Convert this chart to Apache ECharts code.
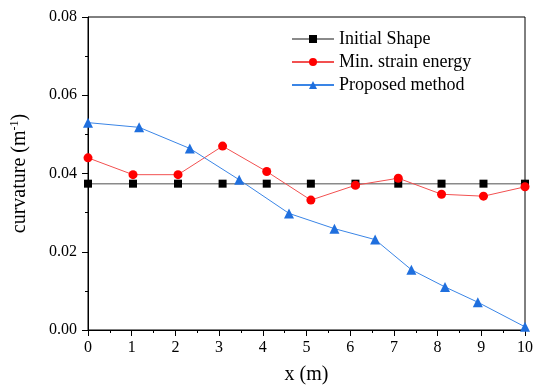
<!DOCTYPE html>
<html>
<head>
<meta charset="utf-8">
<script src="https://cdn.jsdelivr.net/npm/echarts@6/dist/echarts.min.js"></script>
<style>html,body{margin:0;padding:0;background:#fff}#c{width:533px;height:385px}</style>
</head>
<body>
<div id="c"></div>
<script>
var initialX = [0, 1.03, 2.06, 3.08, 4.09, 5.1, 6.12, 7.1, 8.09, 9.05, 10];
var initialY = [0.0374, 0.0374, 0.0374, 0.0374, 0.0374, 0.0374, 0.0374, 0.0374, 0.0374, 0.0374, 0.0374];
var minStrainX = [0, 1.03, 2.06, 3.08, 4.09, 5.1, 6.12, 7.1, 8.09, 9.05, 10];
var minStrainY = [0.0440, 0.0397, 0.0397, 0.0470, 0.0405, 0.0332, 0.0370, 0.0388, 0.0347, 0.0342, 0.0366];
var proposedX = [0, 1.17, 2.33, 3.46, 4.6, 5.64, 6.57, 7.4, 8.17, 8.92, 10];
var proposedY = [0.0530, 0.0518, 0.0464, 0.0384, 0.0298, 0.0259, 0.0231, 0.0154, 0.0110, 0.0071, 0.0008];
var seriesNames = ['Initial Shape', 'Min. strain energy', 'Proposed method'];

function pairs(xs, ys) { return xs.map(function (x, i) { return [x, ys[i]]; }); }

var font = "Liberation Serif";
var richLbl = { t: { fontFamily: font, fontSize: 16, color: '#000' } };
var chart = echarts.init(document.getElementById('c'));
chart.setOption({
  animation: false,
  textStyle: { fontFamily: font },
  grid: { left: 88, right: 8, top: 17, bottom: 55, show: true, borderColor: '#000', borderWidth: 1,
    backgroundColor: 'transparent', outerBoundsMode: 'none', containLabel: false },
  legend: {
    orient: 'vertical', left: 286, top: 25, itemWidth: 42, itemHeight: 10, itemGap: 5,
    textStyle: { fontFamily: font, fontSize: 18, color: '#000' },
    data: seriesNames
  },
  xAxis: {
    type: 'value', min: 0, max: 10, interval: 1,
    name: 'x (m)', nameLocation: 'middle', nameGap: 35,
    nameTextStyle: { fontFamily: font, fontSize: 20, color: '#000' },
    axisLine: { onZero: false, lineStyle: { color: '#000', width: 1 } },
    axisTick: { inside: false, length: 6, lineStyle: { color: '#000' } },
    minorTick: { show: true, splitNumber: 2, length: 3, lineStyle: { color: '#000' } },
    axisLabel: { fontFamily: font, fontSize: 16, color: '#000', margin: 10, rich: richLbl,
      formatter: function (v) { return '{t|' + v + '}'; } },
    splitLine: { show: false }
  },
  yAxis: {
    type: 'value', min: 0, max: 0.08, interval: 0.02,
    name: '{a|curvature (m}{b|-1}{a|)}', nameLocation: 'middle', nameGap: 57,
    nameTextStyle: { fontFamily: font, fontSize: 20, color: '#000',
      rich: { a: { fontFamily: font, fontSize: 20, color: '#000' }, b: { fontFamily: font, fontSize: 12, color: '#000', verticalAlign: 'top', padding: [0, 0, 10, 0] } } },
    axisLine: { onZero: false, lineStyle: { color: '#000', width: 1 } },
    axisTick: { inside: false, length: 6, lineStyle: { color: '#000' } },
    minorTick: { show: true, splitNumber: 2, length: 3, lineStyle: { color: '#000' } },
    axisLabel: { fontFamily: font, fontSize: 16, color: '#000', margin: 11, rich: richLbl,
      formatter: function (v) { return '{t|' + v.toFixed(2) + '}'; } },
    splitLine: { show: false }
  },
  series: [
    { name: seriesNames[0], type: 'line', data: pairs(initialX, initialY), symbol: 'rect', symbolSize: 8,
      lineStyle: { color: '#8a8a8a', width: 1.5 }, itemStyle: { color: '#000' } },
    { name: seriesNames[1], type: 'line', data: pairs(minStrainX, minStrainY), symbol: 'circle', symbolSize: 9,
      lineStyle: { color: '#f25050', width: 1 }, itemStyle: { color: '#ff0000' } },
    { name: seriesNames[2], type: 'line', data: pairs(proposedX, proposedY), symbol: 'triangle', symbolSize: 10,
      lineStyle: { color: '#3a85e6', width: 1 }, itemStyle: { color: '#1f6fde' } }
  ]
});
</script>
</body>
</html>
